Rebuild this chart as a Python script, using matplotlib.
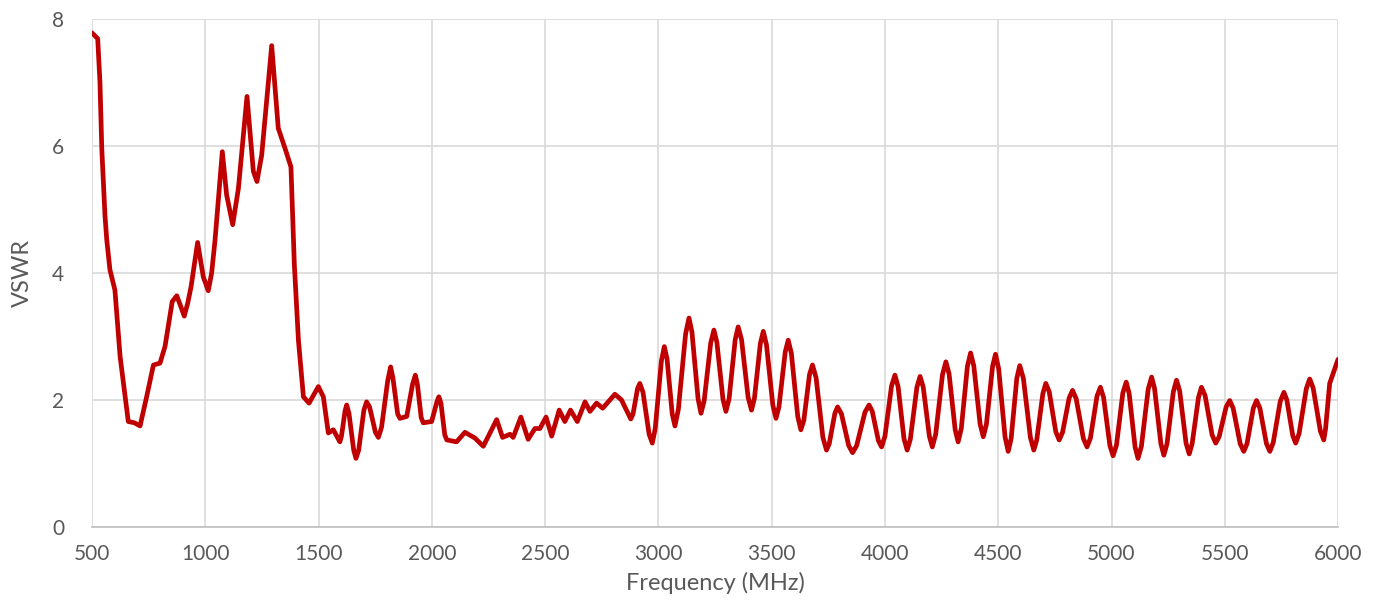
import matplotlib
matplotlib.use("Agg")
import matplotlib.pyplot as plt

# VSWR sweep: peaks, troughs and points on the flanks
freq_mhz = [
    500, 525, 535, 543, 557, 565, 579, 601, 624, 660, 687, 712, 741, 771, 800,
    822, 854, 874, 892, 907, 922, 937, 966, 991, 1013, 1028, 1043, 1075,
    1094, 1121, 1146, 1184, 1212, 1228, 1249, 1293, 1322, 1352, 1378, 1393, 1411, 1433, 1458, 1499,
    1521, 1543, 1565, 1594, 1601, 1617, 1624, 1634, 1655, 1665, 1677, 1700, 1712, 1725, 1751, 1764,
    1778, 1805, 1818, 1828, 1849, 1859, 1889, 1915, 1927, 1936, 1953, 1962, 1999, 2023, 2031, 2040, 2057, 2066,
    2109, 2146, 2190, 2227, 2286, 2312, 2345, 2359, 2393, 2425, 2455, 2477, 2504, 2529, 2562,
    2587, 2612, 2642, 2676, 2698, 2727, 2754, 2808, 2837, 2878, 2888, 2908, 2918, 2932, 2959, 2973,
    2986, 3013, 3026, 3038, 3061, 3073, 3088, 3120, 3135, 3148, 3175, 3188, 3202, 3231, 3245, 3258, 3285, 3298, 3312, 3339, 3352,
    3367, 3396, 3411, 3424, 3450, 3463, 3477, 3505, 3519, 3532, 3560, 3573, 3587, 3615, 3629, 3642, 3667, 3680, 3696, 3726, 3742,
    3754, 3779, 3791, 3808, 3840, 3857, 3875, 3912, 3930, 3944, 3971, 3985, 4000, 4029, 4044, 4058, 4084, 4098,
    4112, 4141, 4155, 4169, 4196, 4209, 4224, 4254, 4269, 4283, 4310, 4323, 4337, 4364, 4378, 4392, 4420, 4434,
    4448, 4475, 4488, 4502, 4530, 4544, 4557, 4582, 4595, 4611, 4642, 4657, 4670, 4697, 4710, 4725, 4754, 4769,
    4784, 4813, 4828, 4844, 4876, 4892, 4907, 4936, 4951, 4965, 4993, 5007, 5022, 5050, 5065, 5078, 5104, 5117,
    5132, 5162, 5177, 5190, 5218, 5231, 5245, 5273, 5287, 5301, 5329, 5343, 5356, 5384, 5397, 5413, 5444, 5460,
    5475, 5506, 5522, 5537, 5568, 5584, 5598, 5626, 5640, 5655, 5684, 5699, 5714, 5745, 5761, 5774, 5800, 5813,
    5828, 5860, 5875, 5890, 5922, 5937, 5945, 5963, 6000,
]
vswr = [
    7.78, 7.69, 7.00, 5.96, 4.91, 4.52, 4.05, 3.73, 2.68, 1.66, 1.64, 1.59, 2.05, 2.55, 2.58,
    2.84, 3.55, 3.64, 3.47, 3.32, 3.52, 3.78, 4.48, 3.94, 3.72, 4.00, 4.52, 5.91,
    5.23, 4.76, 5.33, 6.78, 5.60, 5.44, 5.86, 7.58, 6.28, 5.96, 5.67, 4.13, 2.94, 2.05, 1.95, 2.21,
    2.05, 1.48, 1.53, 1.34, 1.43, 1.83, 1.92, 1.79, 1.21, 1.08, 1.21, 1.84, 1.97, 1.89, 1.49, 1.41,
    1.57, 2.30, 2.52, 2.35, 1.78, 1.71, 1.74, 2.25, 2.39, 2.25, 1.72, 1.64, 1.66, 1.98, 2.05, 1.95, 1.45, 1.37,
    1.34, 1.49, 1.40, 1.27, 1.69, 1.41, 1.46, 1.41, 1.73, 1.38, 1.55, 1.55, 1.73, 1.43, 1.84,
    1.66, 1.84, 1.66, 1.97, 1.82, 1.95, 1.87, 2.09, 2.00, 1.70, 1.78, 2.18, 2.26, 2.12, 1.46, 1.32,
    1.55, 2.61, 2.84, 2.65, 1.78, 1.59, 1.85, 3.04, 3.29, 3.07, 2.02, 1.79, 1.99, 2.90, 3.10, 2.91, 2.01, 1.82, 2.02, 2.95, 3.15,
    2.95, 2.04, 1.84, 2.03, 2.89, 3.08, 2.87, 1.92, 1.71, 1.89, 2.76, 2.94, 2.73, 1.74, 1.53, 1.68, 2.40, 2.55, 2.35, 1.41, 1.21,
    1.31, 1.79, 1.89, 1.78, 1.28, 1.17, 1.28, 1.81, 1.92, 1.82, 1.36, 1.26, 1.43, 2.22, 2.39, 2.21, 1.39, 1.21,
    1.38, 2.20, 2.37, 2.20, 1.43, 1.26, 1.46, 2.40, 2.60, 2.41, 1.53, 1.34, 1.55, 2.53, 2.74, 2.54, 1.62, 1.42,
    1.62, 2.53, 2.72, 2.49, 1.42, 1.19, 1.39, 2.34, 2.54, 2.34, 1.41, 1.21, 1.37, 2.10, 2.26, 2.13, 1.50, 1.37,
    1.49, 2.03, 2.15, 2.02, 1.39, 1.26, 1.40, 2.06, 2.20, 2.04, 1.28, 1.12, 1.29, 2.11, 2.28, 2.10, 1.26, 1.08,
    1.27, 2.17, 2.36, 2.18, 1.31, 1.13, 1.31, 2.13, 2.31, 2.14, 1.32, 1.15, 1.31, 2.04, 2.20, 2.07, 1.45, 1.32,
    1.42, 1.89, 1.99, 1.87, 1.31, 1.19, 1.31, 1.87, 1.99, 1.87, 1.31, 1.19, 1.33, 1.98, 2.12, 2.00, 1.44, 1.32,
    1.47, 2.18, 2.33, 2.19, 1.51, 1.37, 1.55, 2.26, 2.64,
]
assert len(freq_mhz) == len(vswr)

x_ticks = [500, 1000, 1500, 2000, 2500, 3000, 3500, 4000, 4500, 5000, 5500, 6000]
y_ticks = [0, 2, 4, 6, 8]

LINE_COLOR = "#C00000"
GRID_COLOR = "#D9D9D9"
TEXT_COLOR = "#595959"

plt.rcParams["font.family"] = ["Lato", "DejaVu Sans"]

fig = plt.figure(figsize=(13.82, 6.12), dpi=100)
ax = fig.add_axes([0.0666, 0.139, 0.9016, 0.830])

ax.plot(freq_mhz, vswr, color=LINE_COLOR, linewidth=3.4,
        solid_joinstyle="round", solid_capstyle="round")

ax.set_xlim(500, 6000)
ax.set_ylim(0, 8)
ax.set_xticks(x_ticks)
ax.set_yticks(y_ticks)
ax.grid(True, color=GRID_COLOR, linewidth=1.2)
ax.set_axisbelow(True)
for side in ("top", "right", "left"):
    ax.spines[side].set_visible(False)
ax.spines["bottom"].set_color("#BFBFBF")
ax.spines["bottom"].set_linewidth(1.2)
ax.tick_params(length=0, labelsize=15, colors=TEXT_COLOR)
ax.tick_params(axis="x", pad=12)
ax.tick_params(axis="y", pad=20)

ax.set_xlabel("Frequency (MHz)", fontsize=17, color=TEXT_COLOR, labelpad=6)
ax.set_ylabel("VSWR", fontsize=17, color=TEXT_COLOR, labelpad=14)

fig.savefig("out.png", dpi=100)
